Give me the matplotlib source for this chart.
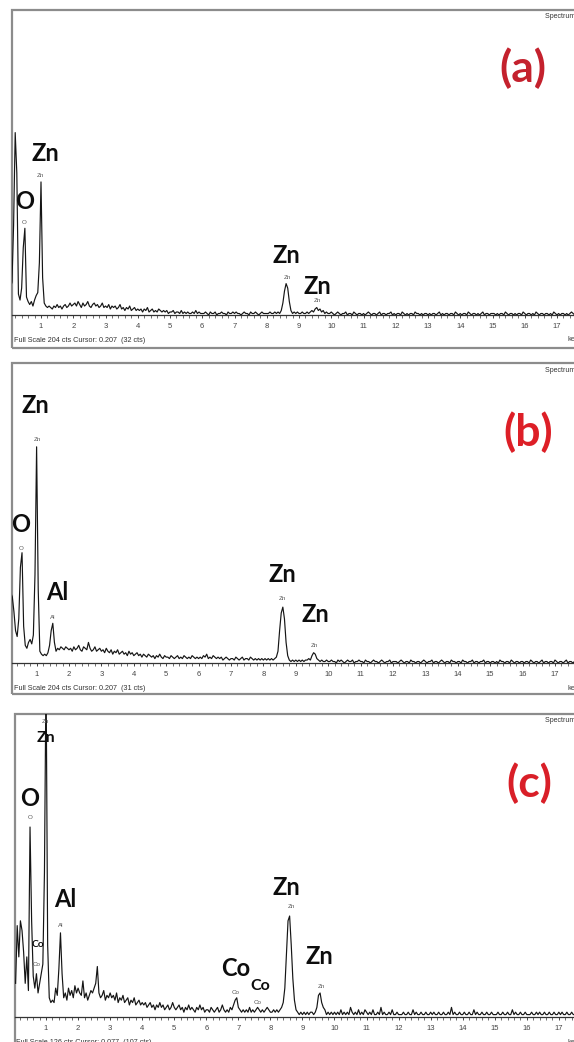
import numpy as np
import matplotlib
matplotlib.use("Agg")
from matplotlib import pyplot as plt
from matplotlib.patches import Rectangle
from matplotlib.ticker import MultipleLocator

W, H = 574, 1042

# EDS spectra, counts per 0.05 keV channel, one row = 1 keV (channels 0.05 .. 18.0 keV)
counts_a = [
    18, 22, 60, 122, 95, 14, 10, 18, 45, 58, 12, 9, 7, 9, 6, 10, 13, 15, 35, 89,
    25, 8, 6, 5, 6, 5, 4, 6, 5, 7, 5, 6, 4, 6, 7, 5, 6, 8, 6, 7,
    8, 6, 9, 7, 5, 8, 6, 7, 9, 6, 5, 7, 8, 6, 7, 5, 6, 8, 5, 6,
    5, 7, 4, 6, 5, 6, 4, 5, 7, 4, 5, 3, 5, 4, 6, 3, 4, 5, 3, 4,
    3, 4, 2, 4, 3, 5, 2, 3, 4, 2, 3, 2, 4, 3, 2, 3, 2, 3, 1, 2,
    2, 3, 1, 2, 2, 1, 3, 1, 2, 1, 2, 1, 1, 2, 1, 3, 1, 2, 1, 1,
    1, 2, 1, 0, 2, 1, 1, 2, 0, 1, 1, 2, 1, 1, 0, 2, 1, 1, 2, 1,
    2, 1, 1, 0, 1, 2, 1, 1, 0, 2, 1, 1, 2, 1, 0, 1, 2, 1, 1, 1,
    1, 2, 1, 1, 2, 1, 2, 1, 3, 8, 16, 21, 18, 9, 3, 1, 2, 1, 2, 1,
    1, 2, 1, 1, 2, 1, 2, 3, 2, 4, 5, 3, 4, 2, 3, 1, 2, 1, 1, 2,
    1, 0, 1, 2, 1, 0, 1, 1, 2, 0, 1, 1, 0, 2, 1, 0, 1, 1, 0, 1,
    0, 1, 2, 1, 0, 1, 1, 0, 1, 2, 0, 1, 1, 0, 1, 1, 2, 0, 1, 0,
    1, 1, 0, 2, 1, 0, 1, 0, 1, 1, 0, 2, 1, 1, 0, 1, 0, 1, 1, 0,
    1, 0, 1, 1, 0, 1, 2, 0, 1, 0, 1, 1, 0, 1, 1, 0, 2, 1, 0, 1,
    0, 1, 1, 0, 2, 1, 0, 1, 1, 0, 1, 0, 1, 2, 0, 1, 1, 0, 1, 1,
    1, 0, 1, 0, 1, 1, 0, 2, 1, 0, 1, 1, 0, 1, 0, 1, 1, 0, 2, 1,
    0, 1, 1, 0, 1, 0, 2, 1, 0, 1, 1, 0, 1, 1, 0, 1, 0, 2, 1, 0,
    1, 0, 1, 1, 0, 1, 0, 1, 2, 1, 0, 1, 1, 0, 1, 0, 1, 1, 0, 1,
]

counts_b = [
    40, 45, 50, 48, 45, 35, 22, 18, 30, 65, 75, 25, 12, 10, 14, 16, 13, 19, 60, 147,
    50, 8, 6, 5, 6, 5, 7, 12, 22, 27, 14, 8, 10, 9, 11, 10, 9, 11, 10, 9,
    10, 8, 11, 9, 10, 12, 9, 8, 11, 10, 9, 14, 10, 8, 9, 11, 8, 9, 10, 8,
    9, 7, 10, 8, 7, 9, 6, 8, 7, 9, 6, 7, 8, 6, 7, 5, 8, 6, 7, 5,
    6, 7, 5, 6, 4, 6, 5, 4, 6, 5, 4, 5, 3, 5, 4, 6, 4, 3, 5, 4,
    4, 3, 5, 4, 3, 4, 5, 3, 4, 3, 5, 4, 3, 4, 3, 5, 4, 3, 4, 3,
    4, 3, 5, 4, 6, 3, 4, 3, 5, 4, 3, 4, 3, 4, 2, 3, 4, 3, 2, 3,
    3, 2, 4, 3, 2, 3, 4, 2, 3, 3, 2, 4, 3, 2, 3, 2, 3, 2, 3, 2,
    3, 2, 3, 2, 3, 2, 3, 4, 8, 22, 34, 38, 30, 14, 5, 2, 1, 2, 1, 2,
    1, 2, 1, 2, 1, 2, 2, 3, 2, 5, 7, 6, 3, 2, 1, 2, 1, 1, 2, 1,
    1, 2, 1, 1, 0, 2, 1, 2, 1, 0, 1, 2, 1, 1, 2, 0, 1, 1, 2, 1,
    1, 0, 2, 1, 1, 0, 1, 2, 1, 1, 0, 1, 2, 1, 0, 1, 1, 2, 0, 1,
    1, 1, 0, 1, 2, 1, 0, 1, 1, 0, 2, 1, 1, 0, 1, 1, 0, 1, 2, 1,
    0, 1, 1, 2, 0, 1, 1, 0, 1, 2, 1, 0, 1, 1, 0, 2, 1, 1, 0, 1,
    1, 0, 2, 1, 1, 0, 1, 1, 2, 0, 1, 1, 0, 1, 1, 2, 0, 1, 1, 0,
    1, 1, 0, 1, 0, 2, 1, 1, 0, 1, 1, 0, 2, 1, 0, 1, 1, 0, 1, 1,
    0, 1, 1, 0, 2, 1, 0, 1, 1, 0, 1, 2, 0, 1, 1, 0, 1, 1, 0, 2,
    1, 0, 1, 1, 0, 1, 2, 0, 1, 1, 0, 1, 1, 0, 2, 1, 0, 1, 1, 0,
]

counts_c = [
    14, 38, 25, 40, 36, 27, 14, 25, 11, 79, 40, 17, 12, 18, 10, 14, 18, 22, 60, 145,
    30, 8, 6, 7, 6, 12, 9, 20, 35, 18, 8, 10, 7, 12, 9, 11, 8, 13, 10, 12,
    10, 9, 15, 8, 10, 7, 9, 11, 10, 12, 14, 21, 10, 8, 9, 11, 7, 9, 8, 10,
    8, 9, 7, 10, 6, 8, 7, 9, 6, 7, 8, 5, 7, 6, 8, 5, 6, 7, 5, 6,
    5, 6, 4, 5, 6, 4, 5, 3, 5, 4, 6, 4, 5, 3, 4, 5, 3, 4, 6, 4,
    3, 4, 5, 3, 4, 2, 4, 3, 5, 3, 4, 3, 2, 4, 3, 5, 3, 4, 2, 3,
    3, 2, 4, 3, 2, 3, 4, 2, 3, 5, 3, 2, 3, 2, 4, 3, 5, 7, 8, 4,
    3, 2, 3, 2, 3, 2, 4, 2, 3, 2, 3, 4, 3, 2, 3, 2, 3, 4, 3, 2,
    2, 3, 2, 3, 2, 3, 4, 6, 12, 26, 40, 42, 30, 16, 7, 3, 2, 1, 2, 1,
    2, 1, 2, 1, 2, 2, 1, 2, 4, 9, 10, 6, 4, 3, 1, 2, 1, 2, 1, 2,
    1, 2, 1, 3, 1, 2, 1, 2, 1, 4, 2, 1, 2, 1, 3, 1, 2, 1, 3, 2,
    1, 2, 1, 3, 1, 1, 2, 1, 4, 1, 2, 1, 1, 2, 1, 3, 1, 1, 2, 1,
    1, 1, 2, 1, 1, 2, 1, 1, 3, 1, 2, 1, 1, 2, 1, 1, 2, 1, 1, 2,
    1, 2, 1, 1, 2, 1, 1, 2, 1, 1, 2, 1, 4, 1, 2, 1, 1, 2, 1, 1,
    2, 1, 1, 2, 1, 1, 3, 1, 2, 1, 1, 2, 1, 1, 2, 1, 1, 2, 1, 1,
    1, 2, 1, 1, 2, 1, 1, 2, 1, 1, 3, 1, 2, 1, 1, 2, 1, 1, 2, 1,
    1, 1, 2, 1, 1, 2, 1, 2, 1, 1, 2, 1, 1, 2, 1, 1, 2, 1, 1, 2,
    1, 2, 1, 1, 2, 1, 1, 2, 1, 1, 2, 1, 2, 1, 1, 2, 1, 1, 2, 1,
]

channel_kev = 0.05
energy = channel_kev * np.arange(1, len(counts_a) + 1)

full_scale = [204, 204, 126]
cursor_text = [
    "Full Scale 204 cts Cursor: 0.207  (32 cts)",
    "Full Scale 204 cts Cursor: 0.207  (31 cts)",
    "Full Scale 126 cts Cursor: 0.077  (107 cts)",
]
panel_tags = ["(a)", "(b)", "(c)"]
tag_colors = ["#c4212d", "#dd1f27", "#d91f28"]

# peak labels: (text, energy keV, counts, fontsize) -- big bold and small grey
labels_a = [("Zn", 1.15, 108, 17), ("O", 0.50, 76, 17), ("Zn", 8.60, 40, 17), ("Zn", 9.56, 19, 17)]
small_a = [("Zn", 0.97, 93), ("O", 0.47, 62), ("Zn", 8.63, 25), ("Zn", 9.56, 10)]
labels_b = [("Zn", 0.95, 175, 17), ("O", 0.52, 94, 17), ("Al", 1.63, 48, 17),
            ("Zn", 8.60, 60, 17), ("Zn", 9.59, 33, 17)]
small_b = [("Zn", 1.01, 152), ("O", 0.52, 78), ("Al", 1.51, 31), ("Zn", 8.60, 44), ("Zn", 9.56, 12)]
labels_c = [("Zn", 1.00, 116, 11.5), ("O", 0.50, 91, 17), ("Al", 1.59, 49, 17), ("Co", 0.75, 30, 7.5),
            ("Co", 6.93, 20, 17), ("Co", 7.68, 13, 11.5), ("Zn", 8.49, 54, 17), ("Zn", 9.52, 25, 17)]
small_c = [("Zn", 0.97, 123), ("O", 0.50, 83), ("Al", 1.47, 38), ("Co", 0.72, 22),
           ("Co", 6.93, 10), ("Co", 7.61, 6), ("Zn", 8.64, 46), ("Zn", 9.58, 12.5)]

# panel layout in pixels: left, top, bottom, baseline, pixel of 0 keV, pixels per keV
layout = [
    (12, 10, 348, 315, 8.75, 32.25),
    (12, 363, 694, 663, 4.2, 32.4),
    (15, 714, 1050, 1017, 14.0, 32.05),
]
tag_pos = [(0.869, 0.828), (0.878, 0.792), (0.880, 0.795)]

BOLD = ["Lato", "DejaVu Sans"]
PLAIN = ["Liberation Sans", "DejaVu Sans"]

fig = plt.figure(figsize=(W / 100, H / 100), dpi=100)

all_counts = [counts_a, counts_b, counts_c]
all_labels = [labels_a, labels_b, labels_c]
all_small = [small_a, small_b, small_c]

for k in range(3):
    left, top, bottom, base, zero_px, kev_px = layout[k]
    right = 600
    fs = full_scale[k]
    ppc = (base - top) / fs
    ax = fig.add_axes([left / W, 1 - bottom / H, (right - left) / W, (bottom - top) / H])
    ax.set_xlim((left - zero_px) / kev_px, (right - zero_px) / kev_px)
    ax.set_ylim((base - bottom) / ppc, fs)
    ax.set_facecolor("white")

    ax.plot(energy, all_counts[k], color="#151515", lw=0.85)

    for side in ["left", "right", "top"]:
        ax.spines[side].set_visible(False)
    ax.spines["bottom"].set_position(("data", 0))
    ax.spines["bottom"].set_color("#333333")
    ax.spines["bottom"].set_linewidth(0.9)
    ax.add_patch(Rectangle((0, 0), 1, 1, transform=ax.transAxes, fill=False,
                           edgecolor="#8c8c8c", lw=1.6, clip_on=False))
    ax.set_yticks([])
    ax.xaxis.set_minor_locator(MultipleLocator(0.2))
    ax.set_xticks(range(1, 18))
    ax.tick_params(axis="x", which="major", direction="out", length=2.5, width=0.7,
                   color="#444444", labelsize=5.5, labelcolor="#444444", pad=3)
    ax.tick_params(axis="x", which="minor", direction="out", length=1.8, width=0.6,
                   color="#555555")
    for lab in ax.get_xticklabels():
        lab.set_family(PLAIN)

    for text, e, c, size in all_labels[k]:
        ax.text(e, c, text, ha="center", va="center", fontsize=size,
                fontweight="bold", family=BOLD, color="#0d0d0d")
    for text, e, c in all_small[k]:
        ax.text(e, c, text, ha="center", va="center", fontsize=4.5,
                family=PLAIN, color="#555555")

    ax.text(tag_pos[k][0], tag_pos[k][1], panel_tags[k], transform=ax.transAxes,
            ha="center", va="center", fontsize=32, fontweight="bold",
            family=BOLD, color=tag_colors[k])

    ax.text(1.5 / (right - left), (bottom - (base + 26)) / (bottom - top), cursor_text[k],
            transform=ax.transAxes, ha="left", va="center", fontsize=5.2,
            family=PLAIN, color="#333333")
    # header and unit text run off the right edge, as in the source screenshot
    ax.text((545 - left) / (right - left), 1 - 7 / (bottom - top), "Spectrum 1",
            transform=ax.transAxes, ha="left", va="center", fontsize=5,
            family=PLAIN, color="#333333")
    ax.text((568 - left) / (right - left), (bottom - (base + 25)) / (bottom - top), "keV",
            transform=ax.transAxes, ha="left", va="center", fontsize=5.5,
            family=PLAIN, color="#444444")

fig.savefig("out.png", dpi=100)
